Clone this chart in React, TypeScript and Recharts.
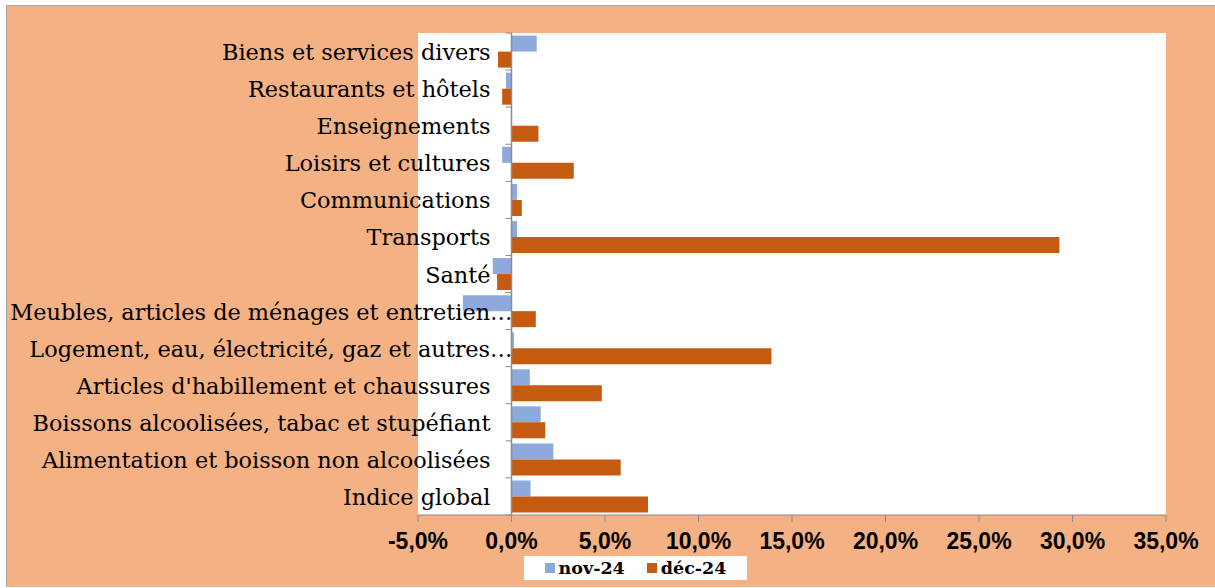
import { BarChart, Bar, XAxis, YAxis, CartesianGrid, Legend, ReferenceLine } from 'recharts'

const categories = [
  'Biens et services divers',
  'Restaurants et hôtels',
  'Enseignements',
  'Loisirs et cultures',
  'Communications',
  'Transports',
  'Santé',
  'Meubles, articles de ménages et entretien…',
  'Logement, eau, électricité, gaz et autres…',
  "Articles d'habillement et chaussures",
  'Boissons alcoolisées, tabac et stupéfiant',
  'Alimentation et boisson non alcoolisées',
  'Indice global',
]
const nov24 = [1.35, -0.3, 0, -0.5, 0.3, 0.3, -1.0, -2.6, 0.13, 0.98, 1.56, 2.24, 1.02]
const dec24 = [-0.72, -0.5, 1.44, 3.33, 0.55, 29.3, -0.77, 1.3, 13.9, 4.83, 1.8, 5.84, 7.3]
const xTicks = [-5, 0, 5, 10, 15, 20, 25, 30, 35]
const seriesNames = ['nov-24', 'déc-24']

const data = categories.map((name, i) => ({ name, nov: nov24[i], dec: dec24[i] }))

const W = 1208
const H = 581
const PLOT_LEFT = 411
const PLOT_TOP = 27
const PLOT_RIGHT = 49
const PLOT_BOTTOM = 72
const plotW = W - PLOT_LEFT - PLOT_RIGHT
const plotH = H - PLOT_TOP - PLOT_BOTTOM
const band = plotH / categories.length
const zeroX = PLOT_LEFT + (plotW * (0 - xTicks[0])) / (xTicks[xTicks.length - 1] - xTicks[0])

const BLUE = '#8EA9DB'
const ORANGE = '#C55A11'
const AXIS = '#8C8C8C'

function CatTick(props: any) {
  const { y, payload, index } = props
  const label: string = payload.value
  // truncated labels run up to the axis in the original
  const right = label.endsWith('…') ? zeroX + 1 : zeroX - 21
  return (
    <g>
      <line x1={zeroX - 6} x2={zeroX} y1={y - band / 2} y2={y - band / 2} stroke={AXIS} />
      {index === categories.length - 1 && (
        <line x1={zeroX - 6} x2={zeroX} y1={y + band / 2} y2={y + band / 2} stroke={AXIS} />
      )}
      <text x={right} y={y} dy="0.38em" textAnchor="end" fill="#000"
        style={{ fontFamily: '"DejaVu Serif", serif', fontSize: 22.4 }}>
        {label}
      </text>
    </g>
  )
}

function LegendBox(props: any) {
  const items = [...(props.payload || [])].sort(
    (a: any, b: any) => seriesNames.indexOf(a.value) - seriesNames.indexOf(b.value))
  return (
    <div style={{ background: '#fff', width: 223, height: 24, display: 'flex', alignItems: 'center', justifyContent: 'center', gap: 22 }}>
      {items.map((it: any) => (
        <div key={it.value} style={{ display: 'flex', alignItems: 'center', gap: 4 }}>
          <span style={{ display: 'inline-block', width: 10, height: 10, background: it.color }} />
          <span style={{ fontFamily: '"DejaVu Serif", serif', fontWeight: 'bold', fontSize: 17.5, color: '#000' }}>{it.value}</span>
        </div>
      ))}
    </div>
  )
}

export default function App() {
  return (
    <div style={{ position: 'absolute', left: 6, top: 5, width: W, height: H, background: '#F4B183', borderLeft: '1px solid #A6A6A6', borderTop: '1px solid #A6A6A6' }}>
      <BarChart width={W} height={H} data={data} layout="vertical"
        margin={{ top: PLOT_TOP, right: PLOT_RIGHT, left: 0, bottom: PLOT_BOTTOM - 40 }}
        barCategoryGap="7%" barGap={0}>
        <CartesianGrid horizontal={false} vertical={false} fill="#fff" />
        <XAxis type="number" domain={[xTicks[0], xTicks[xTicks.length - 1]]} ticks={xTicks} height={40}
          tickFormatter={(v: number) => v.toFixed(1).replace('.', ',') + '%'}
          stroke={AXIS} tickSize={7} tickMargin={11} interval={0}
          tick={{ fill: '#000', fontSize: 23, fontWeight: 'bold', fontFamily: '"Liberation Sans", Arial, sans-serif' }} />
        <YAxis type="category" dataKey="name" width={PLOT_LEFT} axisLine={false} tickLine={false}
          interval={0} tick={<CatTick />} />
        <ReferenceLine x={0} stroke={AXIS} strokeWidth={1.5} />
        <Bar dataKey="nov" name={seriesNames[0]} fill={BLUE} isAnimationActive={false} />
        <Bar dataKey="dec" name={seriesNames[1]} fill={ORANGE} isAnimationActive={false} />
        <Legend layout="horizontal" verticalAlign="middle" content={<LegendBox />}
          wrapperStyle={{ left: 517, top: 550, width: 223, height: 24 }} />
      </BarChart>
    </div>
  )
}
